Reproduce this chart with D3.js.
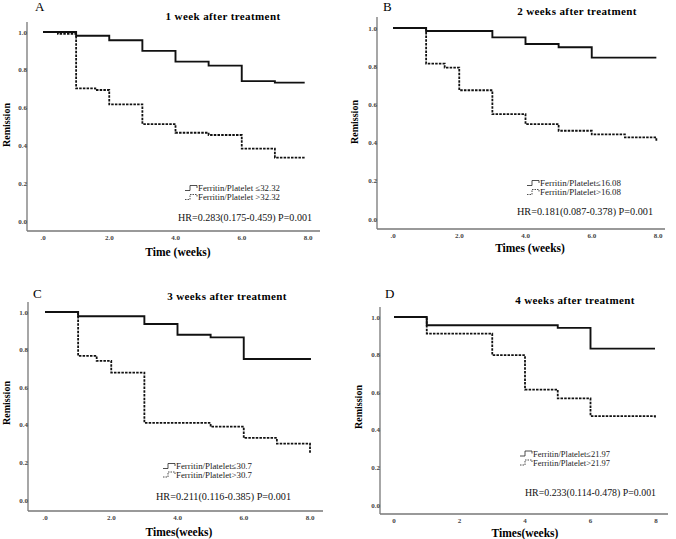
<!DOCTYPE html>
<html>
<head>
<meta charset="utf-8">
<script src="https://cdn.jsdelivr.net/npm/d3@7"></script>
<style>
  body { margin: 0; background: #fff; }
  svg { display: block; }
  .tick-label { font-family: 'Liberation Serif', serif; font-size: 7px; font-weight: bold; fill: #444; }
</style>
</head>
<body>
<svg width="676" height="539"></svg>
<script>
// data
const panelLetters = ['A', 'B', 'C', 'D'];
const titles = ['1 week after treatment', '2 weeks after treatment', '3 weeks after treatment', '4 weeks after treatment'];
const xLabels = ['Time (weeks)', 'Times (weeks)', 'Times(weeks)', 'Times(weeks)'];
const yLabel = 'Remission';
const legendLow = ['Ferritin/Platelet ≤32.32', 'Ferritin/Platelet≤16.08', 'Ferritin/Platelet≤30.7', 'Ferritin/Platelet≤21.97'];
const legendHigh = ['Ferritin/Platelet >32.32', 'Ferritin/Platelet>16.08', 'Ferritin/Platelet>30.7', 'Ferritin/Platelet>21.97'];
const hrTexts = ['HR=0.283(0.175-0.459) P=0.001', 'HR=0.181(0.087-0.378) P=0.001', 'HR=0.211(0.116-0.385) P=0.001', 'HR=0.233(0.114-0.478)  P=0.001'];
const xTicks = [0, 2, 4, 6, 8];
const xTickLabels = [['.0', '2.0', '4.0', '6.0', '8.0'], ['.0', '2.0', '4.0', '6.0', '8.0'], ['.0', '2.0', '4.0', '6.0', '8.0'], ['0', '2', '4', '6', '8']];
const yTicks = [0, 0.2, 0.4, 0.6, 0.8, 1.0];
const yTickLabels = ['0.0', '0.2', '0.4', '0.6', '0.8', '1.0'];

// low ratio group (solid)
const lowTimes = [
  [0, 1, 2, 3, 4, 5, 6, 7, 7.9],
  [0, 1, 3, 4, 5, 6, 7.95],
  [0, 1, 3, 4, 5, 6, 8],
  [0, 1, 5, 6, 7.97]
];
const lowSurv = [
  [1, 0.98, 0.956, 0.90, 0.843, 0.822, 0.74, 0.732, 0.732],
  [1, 0.984, 0.951, 0.916, 0.899, 0.845, 0.845],
  [1, 0.977, 0.936, 0.879, 0.865, 0.75, 0.745],
  [1, 0.956, 0.942, 0.832, 0.832]
];
// high ratio group (dashed)
const highTimes = [
  [0, 0.45, 1, 1.58, 2, 3, 4, 5, 6, 7, 7.9],
  [0, 1, 1.56, 2, 3, 4, 5, 6, 7, 7.95, 7.95],
  [0, 1, 1.56, 2, 3, 5, 6, 7, 8, 8],
  [0, 1, 3, 4, 5, 6, 7.97, 7.97]
];
const highSurv = [
  [1, 0.99, 0.702, 0.693, 0.617, 0.513, 0.467, 0.455, 0.383, 0.335, 0.335],
  [1, 0.814, 0.793, 0.674, 0.549, 0.497, 0.462, 0.443, 0.427, 0.427, 0.404],
  [1, 0.767, 0.74, 0.678, 0.41, 0.39, 0.33, 0.30, 0.30, 0.25],
  [1, 0.912, 0.797, 0.614, 0.567, 0.473, 0.473, 0.464]
];

// panel placement
const layout = [
  { axX: 27, x0: 43, x8: 308, y1: 32, y0: 221, axY: 231, top: 22, right: 320,
    letter: [35, 11], title: [223, 20], xlab: [178, 256], ylab: [6, 125],
    leg: [185, 188, 197], legW: 95, hr: [178, 221], hrW: 134 },
  { axX: 377, x0: 393, x8: 658, y1: 28, y0: 219, axY: 229, top: 17, right: 665,
    letter: [383, 11], title: [577, 15], xlab: [530, 252], ylab: [354, 122],
    leg: [527, 183, 192], legW: 94, hr: [517, 215], hrW: 136 },
  { axX: 28, x0: 45, x8: 310, y1: 312, y0: 500, axY: 511, top: 302, right: 323,
    letter: [33, 298], title: [227, 300], xlab: [179, 536], ylab: [6, 403],
    leg: [163, 466, 474.5], legW: 89, hr: [156, 500], hrW: 135 },
  { axX: 380, x0: 394, x8: 656, y1: 317, y0: 505, axY: 514, top: 307, right: 668,
    letter: [385, 298], title: [575, 304], xlab: [525, 537], ylab: [358, 407],
    leg: [520, 453.5, 462.5], legW: 90, hr: [525, 496], hrW: 131 }
];

const svg = d3.select('svg');

layout.forEach((L, i) => {
  const g = svg.append('g');

  const x = d3.scaleLinear().domain([0, 8]).range([L.x0, L.x8]);
  const y = d3.scaleLinear().domain([0, 1]).range([L.y0, L.y1]);

  // axes lines
  g.append('line')
    .attr('x1', L.axX).attr('x2', L.axX).attr('y1', L.top).attr('y2', L.axY)
    .attr('stroke', '#777').attr('stroke-width', 1.3);
  g.append('line')
    .attr('x1', L.axX).attr('x2', L.right).attr('y1', L.axY).attr('y2', L.axY)
    .attr('stroke', '#777').attr('stroke-width', 1.3);

  g.selectAll('.ytl')
    .data(yTicks)
    .enter()
    .append('text')
    .attr('class', 'tick-label')
    .attr('x', L.axX)
    .attr('y', d => y(d) + 2.5)
    .attr('text-anchor', 'end')
    .text((d, j) => yTickLabels[j]);

  g.selectAll('.xtl')
    .data(xTicks)
    .enter()
    .append('text')
    .attr('class', 'tick-label')
    .attr('x', d => x(d))
    .attr('y', L.axY + 9)
    .attr('text-anchor', 'middle')
    .text((d, j) => xTickLabels[i][j]);

  // survival curves
  const line = d3.line()
    .x(d => x(d[0]))
    .y(d => y(d[1]))
    .curve(d3.curveStepAfter);

  g.append('path')
    .attr('d', line(d3.zip(highTimes[i], highSurv[i])))
    .attr('fill', 'none')
    .attr('stroke', '#111')
    .attr('stroke-width', 1.8)
    .attr('stroke-dasharray', '2.5,1.2');

  g.append('path')
    .attr('d', line(d3.zip(lowTimes[i], lowSurv[i])))
    .attr('fill', 'none')
    .attr('stroke', '#111')
    .attr('stroke-width', 1.9);

  // legend
  const lx = L.leg[0];
  [[L.leg[1], null, legendLow[i]], [L.leg[2], '1.5,1', legendHigh[i]]].forEach(([ly, dash, label]) => {
    g.append('path')
      .attr('d', `M${lx},${ly + 2.5}h5v-5h7v2.5`)
      .attr('fill', 'none')
      .attr('stroke', '#222')
      .attr('stroke-width', 0.8)
      .attr('stroke-dasharray', dash);
    g.append('text')
      .attr('x', lx + 13)
      .attr('y', ly + 3)
      .attr('textLength', L.legW - 13)
      .attr('lengthAdjust', 'spacingAndGlyphs')
      .style('font-family', 'Liberation Serif, serif')
      .style('font-size', '8.5px')
      .attr('fill', '#222')
      .text(label);
  });

  g.append('text')
    .attr('x', L.hr[0])
    .attr('y', L.hr[1])
    .attr('textLength', L.hrW)
    .attr('lengthAdjust', 'spacingAndGlyphs')
    .style('font-family', 'Liberation Serif, serif')
    .style('font-size', '10.5px')
    .attr('fill', '#111')
    .text(hrTexts[i]);

  // titles and labels
  g.append('text')
    .attr('x', L.letter[0])
    .attr('y', L.letter[1])
    .style('font-family', 'Liberation Serif, serif')
    .style('font-size', '13px')
    .attr('fill', '#000')
    .text(panelLetters[i]);

  g.append('text')
    .attr('x', L.title[0])
    .attr('y', L.title[1])
    .attr('text-anchor', 'middle')
    .style('font-family', 'Liberation Serif, serif')
    .style('font-size', '11px')
    .style('font-weight', 'bold')
    .style('letter-spacing', '0.4px')
    .attr('fill', '#000')
    .text(titles[i]);

  g.append('text')
    .attr('x', L.xlab[0])
    .attr('y', L.xlab[1])
    .attr('text-anchor', 'middle')
    .style('font-family', 'Liberation Serif, serif')
    .style('font-size', '11.5px')
    .style('font-weight', 'bold')
    .attr('fill', '#000')
    .text(xLabels[i]);

  g.append('text')
    .attr('transform', `translate(${L.ylab[0]},${L.ylab[1]}) rotate(-90)`)
    .attr('text-anchor', 'middle')
    .attr('dy', '0.35em')
    .style('font-family', 'Liberation Serif, serif')
    .style('font-size', '10px')
    .style('font-weight', 'bold')
    .attr('fill', '#000')
    .text(yLabel);
});
</script>
</body>
</html>
